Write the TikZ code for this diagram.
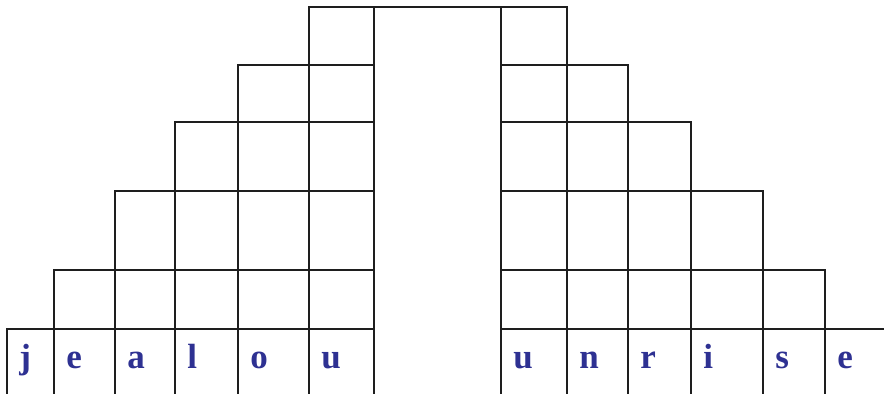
\documentclass[tikz,border=0pt]{standalone}
\usepackage{fontspec}
\setmainfont{Liberation Serif}
\usepackage{xcolor}
\usepackage{tikz}
\usetikzlibrary{positioning}
\definecolor{WordBlue}{HTML}{2E3192}
\definecolor{GridInk}{HTML}{1E1E1E}
\tikzset{
  stair/line/.style={draw=GridInk, line width=1.1pt, line cap=rect},
  stair/letter/.style={anchor=base west, inner sep=0pt, text=WordBlue,
    font=\fontsize{17.5}{20}\selectfont\bfseries}
}

\begin{document}
\begin{tikzpicture}[x=0.5pt, y=-0.5pt]
  \useasboundingbox (0,0) rectangle (884,394);

  % left staircase
  \foreach \x/\t in {7/329,54/270,115/191,175/122,238/65,309/7,374/7}
    \draw[stair/line] (\x,\t) -- (\x,394);
  \foreach \y/\s in {329/7,270/54,191/115,122/175,65/238}
    \draw[stair/line] (\s,\y) -- (374,\y);

  % right staircase
  \foreach \x/\t in {501/7,567/7,628/65,691/122,763/191,825/270}
    \draw[stair/line] (\x,\t) -- (\x,394);
  \foreach \y/\e in {65/628,122/691,191/763,270/825,329/884}
    \draw[stair/line] (501,\y) -- (\e,\y);

  % top over the gap
  \draw[stair/line] (309,7) -- (567,7);

  % words
  \foreach \x/\c [count=\i] in {7/j,54/e,115/a,175/l,238/o,309/u}
    \node[stair/letter] (left\i) at (\x+12,369) {\c};
  \foreach \x/\c [count=\i] in {501/u,567/n,628/r,691/i,763/s,825/e}
    \node[stair/letter] (right\i) at (\x+12,369) {\c};
\end{tikzpicture}
\end{document}
